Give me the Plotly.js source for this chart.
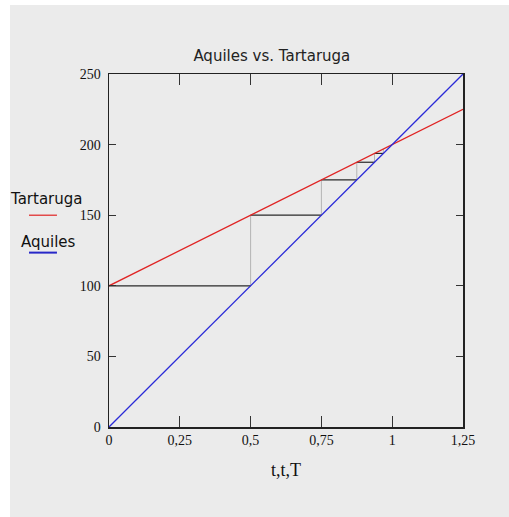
<!DOCTYPE html>
<html>
<head>
<meta charset="utf-8">
<script src="https://cdn.plot.ly/plotly-3.0.1.min.js"></script>
<style>
html,body{margin:0;padding:0;background:#ffffff;width:509px;height:517px;overflow:hidden;}
#chart{position:absolute;left:10px;top:5px;width:499px;height:512px;}
</style>
</head>
<body>
<div id="chart"></div>
<script>
// Data
var tVals = [0, 0.25, 0.5, 0.75, 1, 1.25];
var tartaruga = [100, 125, 150, 175, 200, 225];
var aquiles = [0, 50, 100, 150, 200, 250];
// Zeno steps
var stepX = [0, 0.5, 0.75, 0.875, 0.9375, 0.96875];
var stepY = [100, 150, 175, 187.5, 193.75, 196.875];
var xTickVals = [0, 0.25, 0.5, 0.75, 1, 1.25];
var xTickText = ["0", "0,25", "0,5", "0,75", "1", "1,25"];
var yTickVals = [0, 50, 100, 150, 200, 250];
var yTickText = ["0", "50", "100", "150", "200", "250"];

var traces = [];
var hx = [], hy = [], vx = [], vy = [];
for (var i = 0; i < stepX.length - 1; i++) {
  hx.push(stepX[i], stepX[i+1], null);
  hy.push(stepY[i], stepY[i], null);
  vx.push(stepX[i+1], stepX[i+1], null);
  vy.push(stepY[i], stepY[i+1], null);
}
traces.push({x: vx, y: vy, mode: 'lines', line: {color: '#b4b4b4', width: 1}, showlegend: false, hoverinfo: 'skip'});
traces.push({x: hx, y: hy, mode: 'lines', line: {color: '#2a2a2a', width: 1.2}, showlegend: false, hoverinfo: 'skip'});
traces.push({x: tVals, y: tartaruga, mode: 'lines', name: 'Tartaruga', line: {color: '#e02424', width: 1.3}, showlegend: false});
traces.push({x: tVals, y: aquiles, mode: 'lines', name: 'Aquiles', line: {color: '#2a2ad8', width: 1.3}, showlegend: false});

var tickFont = {family: 'Liberation Serif', size: 14, color: '#111'};
var layout = {
  width: 499, height: 512,
  paper_bgcolor: '#ebebeb', plot_bgcolor: '#ebebeb',
  margin: {l: 99, r: 46, t: 69, b: 90},
  showlegend: false,
  title: {text: 'Aquiles vs. Tartaruga', font: {family: 'DejaVu Sans', size: 15, color: '#222'},
          x: 0.46, xref: 'paper', xanchor: 'center', y: 0.9, yref: 'container', yanchor: 'middle'},
  xaxis: {range: [0, 1.25], tickvals: xTickVals, ticktext: xTickText, tickfont: tickFont,
          ticks: 'inside', ticklen: 11, tickwidth: 1.3, tickcolor: '#333', mirror: 'ticks',
          showline: true, linecolor: '#222', linewidth: 1.5, showgrid: false, zeroline: false,
          title: {text: 't,t,T', font: {family: 'Liberation Serif', size: 18, color: '#111'}, standoff: 16}},
  yaxis: {range: [0, 250], tickvals: yTickVals, ticktext: yTickText, tickfont: tickFont,
          ticks: 'inside', ticklen: 7, tickwidth: 1.3, tickcolor: '#333', mirror: 'ticks',
          showline: true, linecolor: '#222', linewidth: 1.5, showgrid: false, zeroline: false,
          ticklabelstandoff: 4},
  annotations: [
    {text: 'Tartaruga', xref: 'paper', yref: 'paper', x: -0.285, y: 0.645, xanchor: 'left', yanchor: 'middle', showarrow: false,
     font: {family: 'DejaVu Sans', size: 15, color: '#111'}},
    {text: 'Aquiles', xref: 'paper', yref: 'paper', x: -0.255, y: 0.525, xanchor: 'left', yanchor: 'middle', showarrow: false,
     font: {family: 'DejaVu Sans', size: 15, color: '#111'}}
  ],
  shapes: [
    {type: 'line', xref: 'paper', yref: 'paper', x0: -0.226, x1: -0.147, y0: 0.6, y1: 0.6, line: {color: '#e02424', width: 1.2}},
    {type: 'line', xref: 'paper', yref: 'paper', x0: -0.226, x1: -0.147, y0: 0.494, y1: 0.494, line: {color: '#2828c8', width: 2}}
  ]
};
Plotly.newPlot('chart', traces, layout, {displayModeBar: false, staticPlot: true});
</script>
</body>
</html>
